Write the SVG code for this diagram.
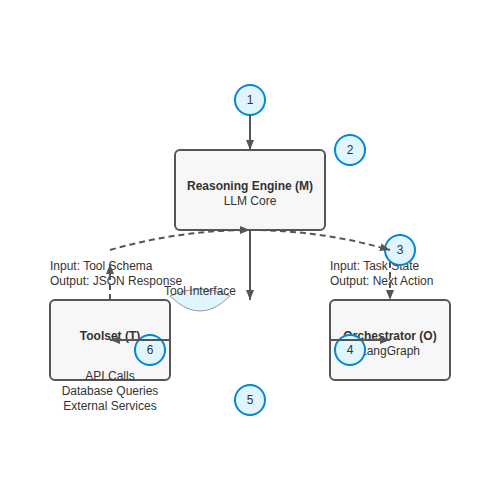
<svg xmlns="http://www.w3.org/2000/svg" width="500" height="500" viewBox="0 0 500 500">
<defs>
<marker id="ah" markerWidth="10" markerHeight="8" refX="10" refY="4" orient="auto" markerUnits="userSpaceOnUse">
<path d="M0,0 L10,4 L0,8 Z" fill="#555"/>
</marker>
</defs>
<style>
.box{fill:#f7f7f7;stroke:#555;stroke-width:2}
.t{font-family:"Liberation Sans",Arial,sans-serif;font-size:12px;fill:#333}
.b{font-weight:bold}
.num{fill:#e1f5fe;stroke:#0288d1;stroke-width:2}
.c{fill:none;stroke:#555;stroke-width:2;marker-end:url(#ah)}
.d{stroke-dasharray:6,4}
</style>
<rect width="500" height="500" fill="#fff"/>
<g id="reasoning">
<rect class="box" x="175" y="150" width="150" height="80" rx="5"/>
<text class="t b" x="250" y="190" text-anchor="middle">Reasoning Engine (M)</text>
<text class="t" x="250" y="205" text-anchor="middle">LLM Core</text>
</g>
<g id="toolset">
<rect class="box" x="50" y="300" width="120" height="80" rx="5"/>
<text class="t b" x="110" y="340" text-anchor="middle">Toolset (T)</text>
<text class="t" x="110" y="380" text-anchor="middle">API Calls</text>
<text class="t" x="110" y="395" text-anchor="middle">Database Queries</text>
<text class="t" x="110" y="410" text-anchor="middle">External Services</text>
<text class="t" x="50" y="270">Input: Tool Schema</text>
<text class="t" x="50" y="285">Output: JSON Response</text>
</g>
<g id="orchestrator">
<rect class="box" x="330" y="300" width="120" height="80" rx="5"/>
<text class="t b" x="390" y="340" text-anchor="middle">Orchestrator (O)</text>
<text class="t" x="390" y="355" text-anchor="middle">LangGraph</text>
<text class="t" x="330" y="270">Input: Task State</text>
<text class="t" x="330" y="285">Output: Next Action</text>
</g>
<g id="interface">
<path d="M170,296 Q200,282 230,296 Q200,326 170,296 Z" fill="#e1f5fe" stroke="#999" stroke-width="1"/>
<text class="t" x="200" y="295" text-anchor="middle">Tool Interface</text>
</g>
<g id="steps">
<g id="s1"><circle class="num" cx="250" cy="100" r="15"/><text class="t" x="250" y="104" text-anchor="middle">1</text></g>
<g id="s2"><circle class="num" cx="350" cy="150" r="15"/><text class="t" x="350" y="154" text-anchor="middle">2</text></g>
<g id="s3"><circle class="num" cx="400" cy="250" r="15"/><text class="t" x="400" y="254" text-anchor="middle">3</text></g>
<g id="s4"><circle class="num" cx="350" cy="350" r="15"/><text class="t" x="350" y="354" text-anchor="middle">4</text></g>
<g id="s5"><circle class="num" cx="250" cy="400" r="15"/><text class="t" x="250" y="404" text-anchor="middle">5</text></g>
<g id="s6"><circle class="num" cx="150" cy="350" r="15"/><text class="t" x="150" y="354" text-anchor="middle">6</text></g>
</g>
<g id="connectors">
<path class="c" d="M250,115 L250,150"/>
<path class="c" d="M250,230 L250,300"/>
<path class="c d" d="M110,250 Q180,230 250,230"/>
<path class="c d" d="M250,230 Q320,230 390,250"/>
<path class="c d" d="M110,300 L110,264"/>
<path class="c d" d="M390,262 L390,300"/>
<path class="c" d="M170,340 L110,340"/>
<path class="c" d="M330,340 L390,340"/>
</g>
</svg>
